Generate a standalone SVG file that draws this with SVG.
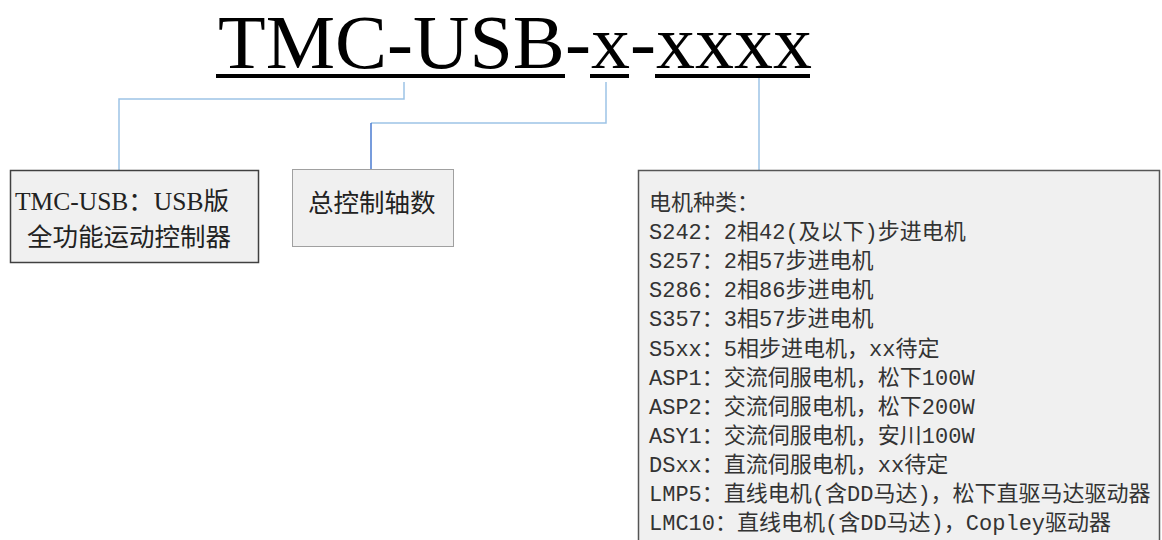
<svg xmlns="http://www.w3.org/2000/svg" width="1162" height="540" viewBox="0 0 1162 540">
<style>
.title{font-family:"Liberation Serif","Noto Sans CJK SC",serif;font-size:76px;fill:#000}
.ul{fill:#000}
.conn{fill:none;stroke:#9dc3e6;stroke-width:1.5}
.conn2{fill:none;stroke:#4a7bd0;stroke-width:1.5}
.box{fill:#f0f0f0}
.t1{font-family:"Liberation Serif","Noto Sans CJK SC",serif;font-size:25.5px;fill:#222}
.t3{font-family:"Liberation Mono","Noto Sans CJK SC",monospace;font-size:22px;fill:#333}
</style>
<rect width="1162" height="540" fill="#fff"/>
<g id="title">
<text class="title" x="218" y="68" textLength="594" lengthAdjust="spacingAndGlyphs">TMC-USB-x-xxxx</text>
<rect class="ul" x="216" y="74" width="349" height="4"/>
<rect class="ul" x="590" y="74" width="39" height="4"/>
<rect class="ul" x="655" y="74" width="155" height="4"/>
</g>
<g id="connectors">
<polyline class="conn" points="404,82 404,99 119,99 119,170"/>
<polyline class="conn" points="606,82 606,123 371,123"/>
<line class="conn2" x1="371" y1="123" x2="371" y2="169"/>
<line class="conn" x1="759" y1="78" x2="759" y2="170"/>
</g>
<g id="node-controller">
<rect class="box" x="10.5" y="170.5" width="248" height="92" stroke="#404040" stroke-width="1.5"/>
<text class="t1" x="15" y="209.5">TMC-USB：USB版</text>
<text class="t1" x="27" y="245.5">全功能运动控制器</text>
</g>
<g id="node-axes">
<rect class="box" x="292.5" y="169.5" width="161" height="77" stroke="#a0a0a0" stroke-width="1"/>
<text class="t1" x="308" y="212">总控制轴数</text>
</g>
<g id="node-motor">
<rect class="box" x="638.5" y="170.5" width="521" height="380" stroke="#555" stroke-width="1.5"/>
<text class="t3" x="649" y="210">电机种类：</text>
<text class="t3" x="649" y="239.1">S242：2相42(及以下)步进电机</text>
<text class="t3" x="649" y="268.2">S257：2相57步进电机</text>
<text class="t3" x="649" y="297.3">S286：2相86步进电机</text>
<text class="t3" x="649" y="326.4">S357：3相57步进电机</text>
<text class="t3" x="649" y="355.5">S5xx：5相步进电机，xx待定</text>
<text class="t3" x="649" y="384.6">ASP1：交流伺服电机，松下100W</text>
<text class="t3" x="649" y="413.7">ASP2：交流伺服电机，松下200W</text>
<text class="t3" x="649" y="442.8">ASY1：交流伺服电机，安川100W</text>
<text class="t3" x="649" y="471.9">DSxx：直流伺服电机，xx待定</text>
<text class="t3" x="649" y="501">LMP5：直线电机(含DD马达)，松下直驱马达驱动器</text>
<text class="t3" x="649" y="530.1">LMC10：直线电机(含DD马达)，Copley驱动器</text>
</g>
</svg>
